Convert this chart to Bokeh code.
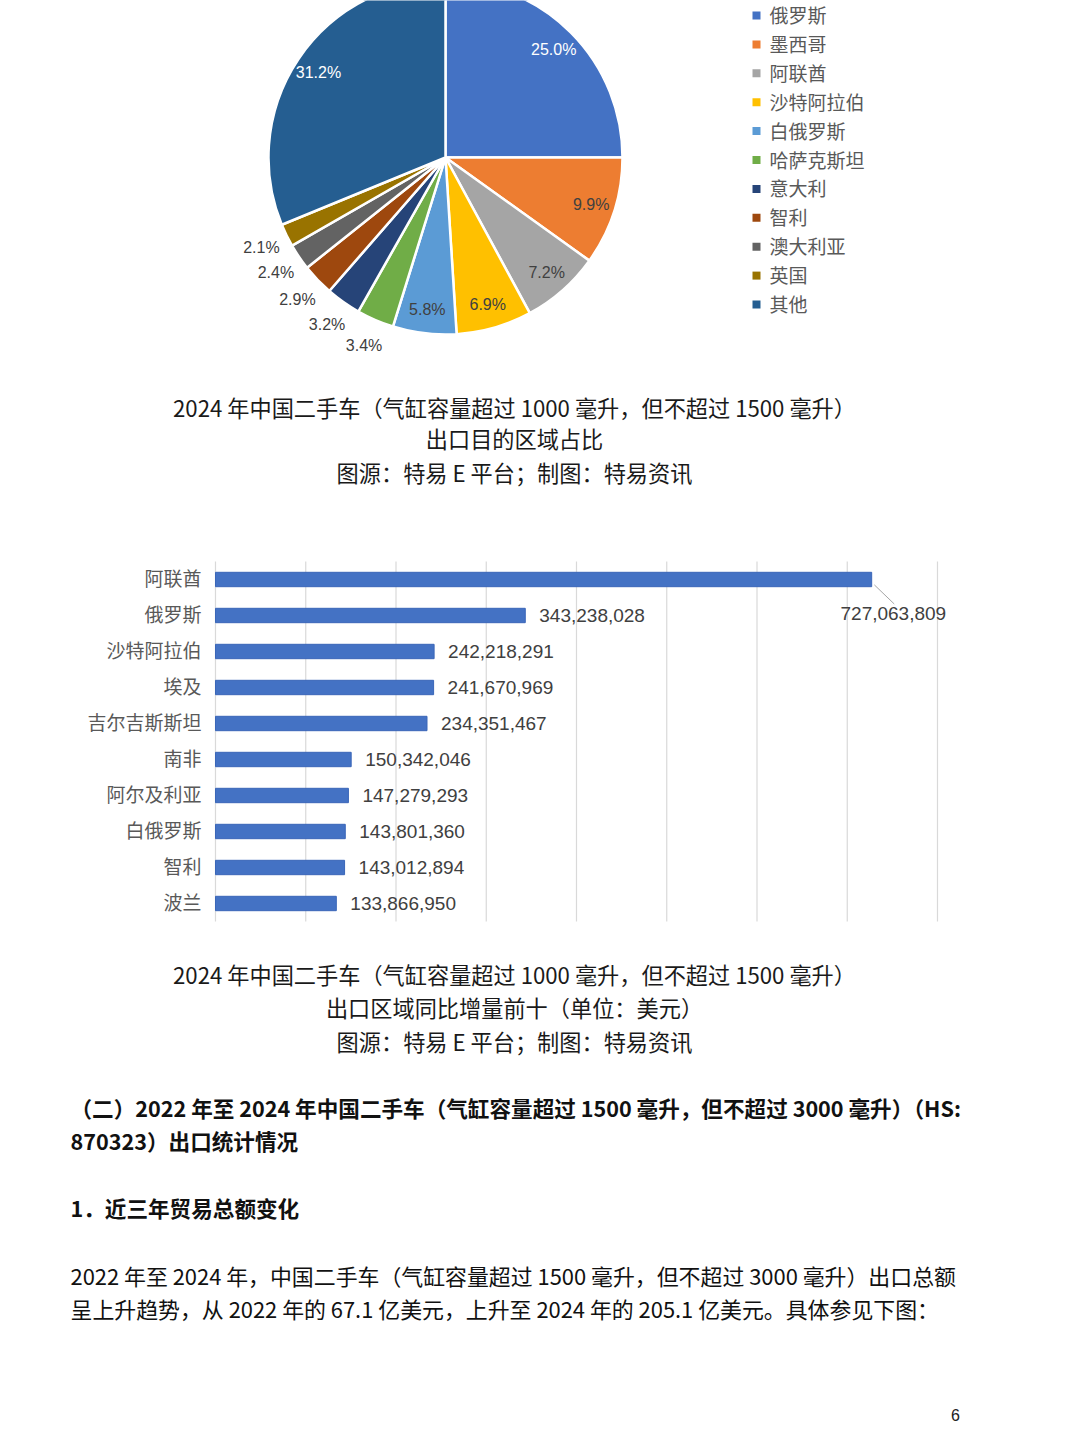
import numpy as np
from bokeh.plotting import figure
from bokeh.models import Range1d, ColumnDataSource
from bokeh.layouts import column
from bokeh.core.properties import value
from bokeh.embed import file_html
from bokeh.resources import INLINE

# ---------------- data ----------------
pie_countries = ["俄罗斯", "墨西哥", "阿联酋", "沙特阿拉伯", "白俄罗斯", "哈萨克斯坦",
                 "意大利", "智利", "澳大利亚", "英国", "其他"]
pie_shares = [25.0, 9.9, 7.2, 6.9, 5.8, 3.4, 3.2, 2.9, 2.4, 2.1, 31.2]
pie_palette = ["#4472C4", "#ED7D31", "#A5A5A5", "#FFC000", "#5B9BD5", "#70AD47",
               "#264478", "#9E480E", "#636363", "#997300", "#255E91"]

bar_countries = ["阿联酋", "俄罗斯", "沙特阿拉伯", "埃及", "吉尔吉斯斯坦", "南非",
                 "阿尔及利亚", "白俄罗斯", "智利", "波兰"]
bar_values = [727063809, 343238028, 242218291, 241670969, 234351467,
              150342046, 147279293, 143801360, 143012894, 133866950]
bar_ticks = [0, 100e6, 200e6, 300e6, 400e6, 500e6, 600e6, 700e6, 800e6]

caption1 = ["2024 年中国二手车（气缸容量超过 1000 毫升，但不超过 1500 毫升）",
            "出口目的区域占比",
            "图源：特易 E 平台；制图：特易资讯"]
caption2 = ["2024 年中国二手车（气缸容量超过 1000 毫升，但不超过 1500 毫升）",
            "出口区域同比增量前十（单位：美元）",
            "图源：特易 E 平台；制图：特易资讯"]
heading = ["（二）2022 年至 2024 年中国二手车（气缸容量超过 1500 毫升，但不超过 3000 毫升）（HS:",
           "870323）出口统计情况"]
section = "1．近三年贸易总额变化"
paragraph = ["2022 年至 2024 年，中国二手车（气缸容量超过 1500 毫升，但不超过 3000 毫升）出口总额",
             "呈上升趋势，从 2022 年的 67.1 亿美元，上升至 2024 年的 205.1 亿美元。具体参见下图："]
page_number = "6"

CJK = value("Noto Sans CJK SC")
LAT = value("Liberation Sans")
W = 1080
TOTAL_H = 1440
DY = 3  # visual-centre correction for CJK text lines (px)


def text_fig(top, height):
    f = figure(width=W, height=height, x_range=Range1d(0, W), y_range=Range1d(-(top + height), -top),
               x_axis_type=None, y_axis_type=None, output_backend="svg",
               toolbar_location=None, min_border=0)
    f.grid.visible = False
    f.outline_line_color = None
    return f


def py(rows):
    return [-(r - DY) for r in rows]


# ---------------- figure 1 : pie ----------------
H1 = 500
p1 = text_fig(0, H1)

CX, CY, R = 445, 157, 177
cum = np.cumsum([0] + pie_shares) / 100.0
start = np.pi / 2 - 2 * np.pi * cum[:-1]
end = np.pi / 2 - 2 * np.pi * cum[1:]
mid = (start + end) / 2
pie_src = ColumnDataSource(dict(start=start, end=end, color=pie_palette, name=pie_countries))
p1.wedge(x=CX, y=-CY, radius=R, start_angle="start", end_angle="end", direction="clock",
         fill_color="color", line_color="white", line_width=2.5, source=pie_src)

shares = np.array(pie_shares)
lab_r = np.where(shares >= 5, 153, 205)
lab_x = CX + lab_r * np.cos(mid)
lab_y = -CY + lab_r * np.sin(mid)
lab_col = ["#FFFFFF" if s >= 20 else "#404040" for s in pie_shares]
lab_txt = [f"{s:.1f}%" for s in pie_shares]
p1.text(x=lab_x, y=lab_y, text=lab_txt, text_color=lab_col, text_font=LAT,
        text_font_size="16px", text_align="center", text_baseline="middle")

# legend
idx = np.arange(len(pie_countries))
leg_y = -(15 + 28.9 * idx)
p1.scatter(x=756, y=leg_y, marker="square", size=8, fill_color=pie_palette, line_color=None)
p1.text(x=769, y=leg_y + 1, text=pie_countries, text_font=CJK, text_font_size="19px",
        text_color="#595959", text_align="left", text_baseline="middle")

# caption 1
p1.text(x=514, y=py([409, 440, 474]), text=caption1, text_font=CJK, text_font_size="22.2px",
        text_color="#1A1A1A", text_align="center", text_baseline="middle")

# ---------------- figure 2 : bars ----------------
H2 = 440
TOP2 = H1
X0_PX, X800_PX = 215, 937          # plot-area pixel edges of the value axis
ROW0_PX, ROW_STEP = 579 - TOP2, 36   # first bar centre (local px) and row pitch
k = (X800_PX - X0_PX) / 800e6
y_top = -ROW0_PX / ROW_STEP
y_bot = (H2 - ROW0_PX) / ROW_STEP
p2 = figure(width=W, height=H2, x_range=Range1d(-X0_PX / k, (W - X0_PX) / k),
            y_range=Range1d(y_bot, y_top), x_axis_type=None, y_axis_type=None,
            output_backend="svg", toolbar_location=None, min_border=0)
p2.grid.visible = False
p2.outline_line_color = None

n = len(bar_countries)
ypos = np.arange(n)
# vertical grid lines
p2.segment(x0=bar_ticks, y0=-0.5, x1=bar_ticks, y1=n - 0.5, line_color="#D9D9D9", line_width=1.2)

p2.hbar(y=ypos, right=bar_values, left=0, height=0.4, fill_color="#4472C4",
        line_color="#3A66B8", line_width=1)

# category labels
p2.text(x=0, y=ypos - 2.0 / ROW_STEP, text=bar_countries, x_offset=-14, text_font=CJK,
        text_font_size="19px", text_color="#595959", text_align="right", text_baseline="middle")

vals = np.array(bar_values, dtype=float)
txt = [f"{v:,}" for v in bar_values]
p2.text(x=vals[1:], y=ypos[1:], text=txt[1:], x_offset=14, text_font=LAT,
        text_font_size="19px", text_color="#404040", text_align="left", text_baseline="middle")
# leader for the top bar
p2.segment(x0=[vals[0] + 3e6], y0=[0.15], x1=[vals[0] + 25e6], y1=[0.68],
           line_color="#A6A6A6", line_width=1)
p2.text(x=[vals[0] + 24e6], y=[0.94], text=[txt[0]], text_font=LAT, text_font_size="19px",
        text_color="#404040", text_align="center", text_baseline="middle")

# ---------------- figure 3 : text ----------------
TOP3 = H1 + H2
H3 = TOTAL_H - TOP3
p3 = text_fig(TOP3, H3)

p3.text(x=514, y=py([976, 1009, 1043]), text=caption2, text_font=CJK, text_font_size="22.2px",
        text_color="#1A1A1A", text_align="center", text_baseline="middle")
p3.text(x=70, y=py([1110, 1143]), text=heading, text_font=CJK, text_font_size="21.6px",
        text_font_style="bold", text_color="#111111", text_align="left", text_baseline="middle")
p3.text(x=70, y=py([1210]), text=[section], text_font=CJK, text_font_size="21.6px",
        text_font_style="bold", text_color="#111111", text_align="left", text_baseline="middle")
p3.text(x=70, y=py([1278, 1311]), text=paragraph, text_font=CJK, text_font_size="21.9px",
        text_color="#111111", text_align="left", text_baseline="middle")
p3.text(x=955, y=[-1414], text=[page_number], text_font=LAT, text_font_size="16px",
        text_color="#222222", text_align="center", text_baseline="middle")

layout = column(p1, p2, p3, spacing=0)
open("out.html", "w").write(file_html(layout, INLINE))
